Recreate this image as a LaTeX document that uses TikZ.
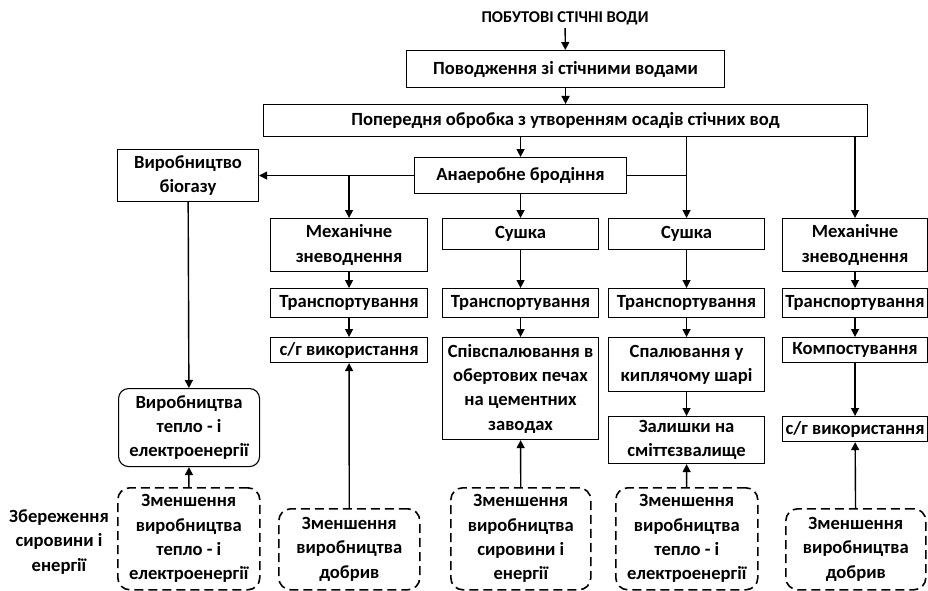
\documentclass[tikz,border=0pt]{standalone}
\usepackage{fontspec}
\setmainfont{Carlito}
\usetikzlibrary{arrows.meta}
\tikzset{
  box/.style={draw, line width=1.1pt, align=center, anchor=north west, inner sep=1pt,
    font=\bfseries\fontsize{18.6}{24.3}\selectfont},
  rbox/.style={box, rounded corners=10pt},
  dbox/.style={box, rounded corners=12pt, line width=1.6pt, dash pattern=on 9pt off 5pt},
  arr/.style={line width=1.4pt, -{Triangle[length=8pt,width=8pt]}},
  lin/.style={line width=1.4pt}
}
\begin{document}
\begin{tikzpicture}[x=1pt,y=-1pt]
\useasboundingbox (0,0) rectangle (928,591);
% Верх
\node[font=\bfseries\fontsize{16.5}{20}\selectfont] (title) at (565,18) {ПОБУТОВІ СТІЧНІ ВОДИ};
\node[box, minimum width=318pt, minimum height=37pt] (povod) at (406,50) {Поводження зі стічними водами};
\node[box, minimum width=604pt, minimum height=32pt] (poper) at (263,104) {Попередня обробка з утворенням осадів стічних вод};
\node[box, minimum width=212pt, minimum height=36pt] (anaer) at (414,157) {Анаеробне бродіння};
\node[box, minimum width=141pt, minimum height=52pt] (biogas) at (117,149) {Виробництво\\біогазу};
% Перший ряд
\node[box, minimum width=157pt, minimum height=53pt] (meh1) at (270,218) {Механічне\\зневоднення};
\node[box, minimum width=156pt, minimum height=31pt] (sush1) at (442,218) {Сушка};
\node[box, minimum width=156pt, minimum height=31pt] (sush2) at (608,218) {Сушка};
\node[box, minimum width=145pt, minimum height=53pt] (meh2) at (782,218) {Механічне\\зневоднення};
% Транспортування
\node[box, minimum width=157pt, minimum height=29pt] (tr1) at (270,288) {Транспортування};
\node[box, minimum width=156pt, minimum height=29pt] (tr2) at (442,288) {Транспортування};
\node[box, minimum width=156pt, minimum height=29pt] (tr3) at (608,288) {Транспортування};
\node[box, minimum width=145pt, minimum height=29pt] (tr4) at (782,288) {Транспортування};
% Третій ряд
\node[box, minimum width=157pt, minimum height=25pt] (sg1) at (270,337) {с/г використання};
\node[box, minimum width=156pt, minimum height=102pt] (spiv) at (442,337) {Співспалювання в\\обертових печах\\на цементних\\заводах};
\node[box, minimum width=156pt, minimum height=54pt] (spal) at (608,337) {Спалювання у\\киплячому шарі};
\node[box, minimum width=145pt, minimum height=25pt] (komp) at (782,337) {Компостування};
\node[box, minimum width=156pt, minimum height=47pt] (zal) at (608,416) {Залишки на\\сміттєзвалище};
\node[box, minimum width=145pt, minimum height=25pt] (sg2) at (782,416) {с/г використання};
\node[rbox, minimum width=141pt, minimum height=78pt] (teplo) at (118,388) {Виробництва\\тепло - і\\електроенергії};
% Штрихові блоки
\node[dbox, minimum width=142pt, minimum height=102pt] (d1) at (117,487) {Зменшення\\виробництва\\тепло - і\\електроенергії};
\node[dbox, minimum width=141pt, minimum height=81pt] (d2) at (278,508) {Зменшення\\виробництва\\добрив};
\node[dbox, minimum width=140pt, minimum height=102pt] (d3) at (450,487) {Зменшення\\виробництва\\сировини і\\енергії};
\node[dbox, minimum width=142pt, minimum height=102pt] (d4) at (615,487) {Зменшення\\виробництва\\тепло - і\\електроенергії};
\node[dbox, minimum width=140pt, minimum height=81pt] (d5) at (785,508) {Зменшення\\виробництва\\добрив};
\node[font=\bfseries\fontsize{18.6}{24.3}\selectfont, align=center] (zber) at (59,542) {Збереження\\сировини і\\енергії};
% Стрілки
\draw[arr] (title) -- (povod);
\draw[arr] (povod) -- (poper);
\draw[arr] (poper.south -| anaer.north) -- (anaer);
\draw[arr] (poper.south -| sush2.north) -- (sush2);
\draw[arr] (poper.south -| meh2.north) -- (meh2);
\draw[lin] (anaer.east) -- (anaer.east -| sush2.north);
\draw[arr] (anaer) -- (biogas);
\draw[arr] (anaer.west -| meh1.north) -- (meh1);
\draw[arr] (anaer) -- (sush1);
\draw[arr] (biogas) -- (teplo);
\draw[arr] (meh1) -- (tr1);
\draw[arr] (tr1) -- (sg1);
\draw[arr] (sush1) -- (tr2);
\draw[arr] (tr2) -- (spiv);
\draw[arr] (sush2) -- (tr3);
\draw[arr] (tr3) -- (spal);
\draw[arr] (spal) -- (zal);
\draw[arr] (meh2) -- (tr4);
\draw[arr] (tr4) -- (komp);
\draw[arr] (komp) -- (sg2);
\draw[arr] (d1) -- (teplo);
\draw[arr] (d2) -- (sg1);
\draw[arr] (d3) -- (spiv);
\draw[arr] (d4) -- (zal);
\draw[arr] (d5) -- (sg2);
\end{tikzpicture}
\end{document}
